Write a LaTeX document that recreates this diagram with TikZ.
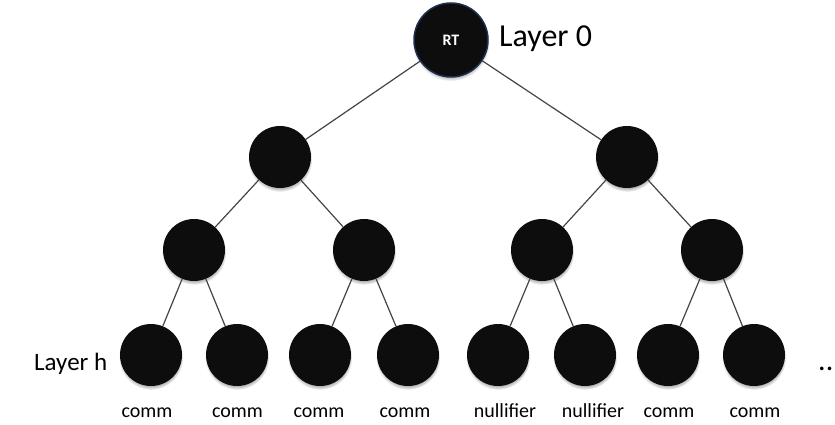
\documentclass[tikz,border=0pt]{standalone}
\usepackage{fontspec}
\setmainfont{Carlito}
\usetikzlibrary{shadows}
\definecolor{nodefill}{HTML}{0D0D0D}
\definecolor{rtborder}{HTML}{1F2F4F}
\definecolor{edgecol}{HTML}{444444}
\begin{document}
\begin{tikzpicture}[x=1pt,y=-1pt,
  tnode/.style={circle, fill=nodefill, minimum size=62pt, inner sep=0pt,
    circular drop shadow={shadow xshift=0pt, shadow yshift=-2.5pt, shadow scale=1.04, opacity=0.7}},
  edge/.style={draw=edgecol, line width=1.2pt},
  lbl/.style={font=\fontsize{20}{24}\selectfont, anchor=base},
  layer/.style={font=\fontsize{#1}{#1}\selectfont}]
\useasboundingbox (0,0) rectangle (835,425);
\clip (0,0) rectangle (835,425);
% root
\node[tnode, draw=rtborder, line width=1.5pt, minimum size=74pt,
  font=\fontsize{16}{18}\selectfont\bfseries, text=white] (rt) at (451,40) {RT};
% layer 1
\node[tnode] (a) at (280,157) {};
\node[tnode] (b) at (627,157) {};
% layer 2
\node[tnode] (a1) at (194,250) {};
\node[tnode] (a2) at (364,250) {};
\node[tnode] (b1) at (542,250) {};
\node[tnode] (b2) at (712,250) {};
% leaves
\node[tnode] (l1) at (151,355) {};
\node[tnode] (l2) at (237,355) {};
\node[tnode] (l3) at (320,355) {};
\node[tnode] (l4) at (408,355) {};
\node[tnode] (l5) at (498,355) {};
\node[tnode] (l6) at (585,355) {};
\node[tnode] (l7) at (668,355) {};
\node[tnode] (l8) at (754,355) {};
% edges
\draw[edge] (rt) -- (a);
\draw[edge] (rt) -- (b);
\draw[edge] (a) -- (a1);
\draw[edge] (a) -- (a2);
\draw[edge] (b) -- (b1);
\draw[edge] (b) -- (b2);
\draw[edge] (a1) -- (l1);
\draw[edge] (a1) -- (l2);
\draw[edge] (a2) -- (l3);
\draw[edge] (a2) -- (l4);
\draw[edge] (b1) -- (l5);
\draw[edge] (b1) -- (l6);
\draw[edge] (b2) -- (l7);
\draw[edge] (b2) -- (l8);
% layer labels
\node[layer=32, anchor=base west, inner sep=0pt] (lay0) at (499,47) {Layer 0};
\node[layer=25, anchor=base west, inner sep=0pt] (layh) at (34,370) {Layer h};
\node[layer=30, anchor=base west, inner sep=0pt] (dots) at (818,370) {...};
% leaf labels
\node[lbl] (t1) at (147,417) {comm};
\node[lbl] (t2) at (237.5,417) {comm};
\node[lbl] (t3) at (319,417) {comm};
\node[lbl] (t4) at (405,417) {comm};
\node[lbl] (t5) at (505,417) {nullifier};
\node[lbl] (t6) at (593,417) {nullifier};
\node[lbl] (t7) at (669,417) {comm};
\node[lbl] (t8) at (755,417) {comm};
\end{tikzpicture}
\end{document}
